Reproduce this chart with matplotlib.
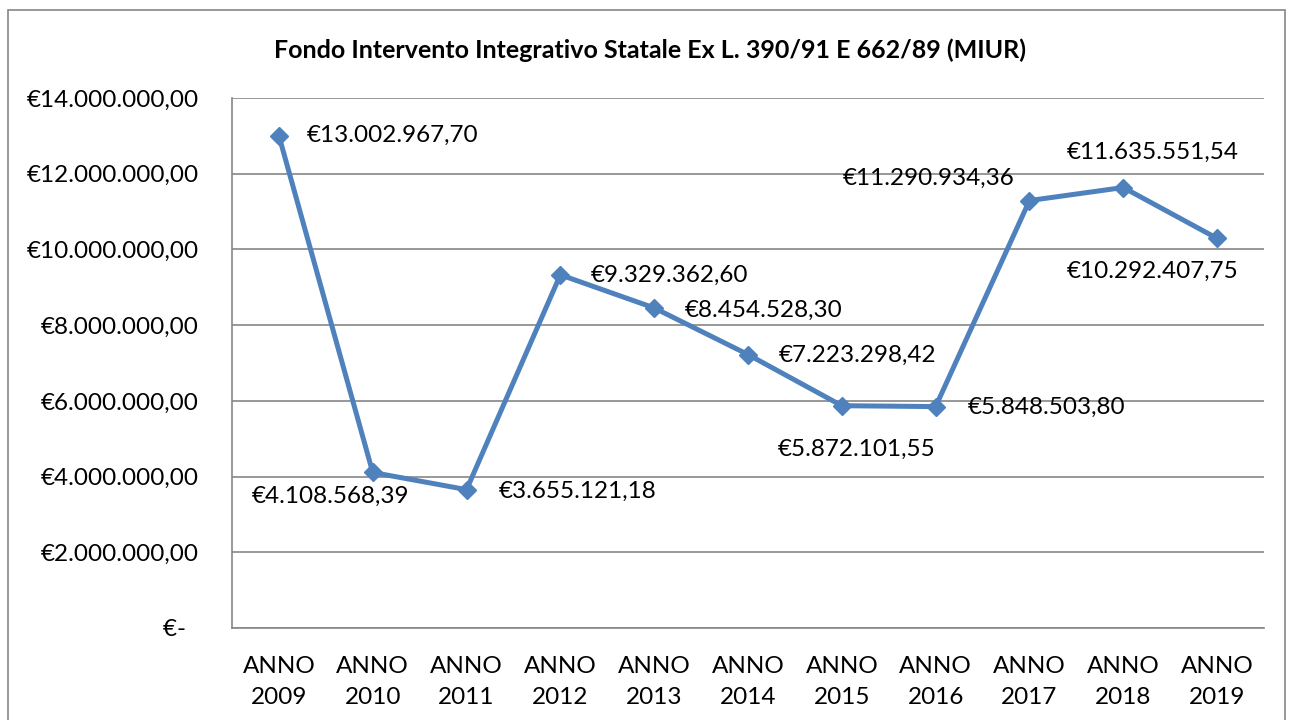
import matplotlib
matplotlib.use("Agg")
import matplotlib.pyplot as plt
from matplotlib.patches import Rectangle
from matplotlib.ticker import FuncFormatter

plt.rcParams['font.family'] = ['Lato', 'DejaVu Sans']

years = ["2009", "2010", "2011", "2012", "2013", "2014", "2015", "2016", "2017", "2018", "2019"]
values = [13002967.70, 4108568.39, 3655121.18, 9329362.60, 8454528.30, 7223298.42,
          5872101.55, 5848503.80, 11290934.36, 11635551.54, 10292407.75]
title = "Fondo Intervento Integrativo Statale Ex L. 390/91 E 662/89 (MIUR)"

def eur(v, dec=2):
    s = f"{v:,.{dec}f}"
    s = s.replace(",", "X").replace(".", ",").replace("X", ".")
    return "€" + s

# label placement (offset in pixels, ha)
offsets = [(28, 0, 'left'), (-42, -24, 'center'), (32, -2, 'left'), (30, -1, 'left'),
           (31, -2, 'left'), (31, -1, 'left'), (15, -44, 'center'), (32, -1, 'left'),
           (-15, 22, 'right'), (29, 35, 'center'), (-64, -33, 'center')]

FS = 17.5

fig = plt.figure(figsize=(12.93, 7.2), dpi=100)
fig.patches.append(Rectangle((8/1293, -0.01), (1285-8)/1293, 710/720 + 0.01,
                             transform=fig.transFigure, fill=False, edgecolor='#868686', linewidth=1.2))
ax = fig.add_axes([232/1293, 92/720, (1264-232)/1293, (628-98)/720])

x = list(range(len(years)))
ax.plot(x, values, color='#4F81BD', linewidth=3.6, marker='D', markersize=9.5,
        markerfacecolor='#4F81BD', markeredgecolor='#4F81BD', zorder=3)

for i, v in enumerate(values):
    dx, dy, ha = offsets[i]
    ax.annotate(eur(v), (i, v), xytext=(dx, dy), textcoords='offset pixels',
                ha=ha, va='center', fontsize=FS, color='black')

ax.set_xlim(-0.5, len(years) - 0.5)
ax.set_ylim(0, 14000000)
ax.set_yticks(range(0, 14000001, 2000000))
ax.yaxis.set_major_formatter(FuncFormatter(lambda v, p: eur(v) if v > 0 else "€-  "))
ax.set_xticks(x)
ax.set_xticklabels([f"ANNO\n{y}" for y in years], linespacing=1.6)
ax.tick_params(axis='both', length=0, labelsize=FS)
ax.tick_params(axis='y', pad=24)
ax.tick_params(axis='x', pad=20)
ax.grid(axis='y', color='#868686', linewidth=1.2)
ax.set_axisbelow(True)
for s in ['top', 'right']:
    ax.spines[s].set_visible(False)
for s in ['left', 'bottom']:
    ax.spines[s].set_color('#868686')
    ax.spines[s].set_linewidth(1.2)

fig.text(650/1293, 1 - 50/720, title, ha='center', va='center', fontsize=18, fontweight='bold')

fig.savefig("out.png", dpi=100)
